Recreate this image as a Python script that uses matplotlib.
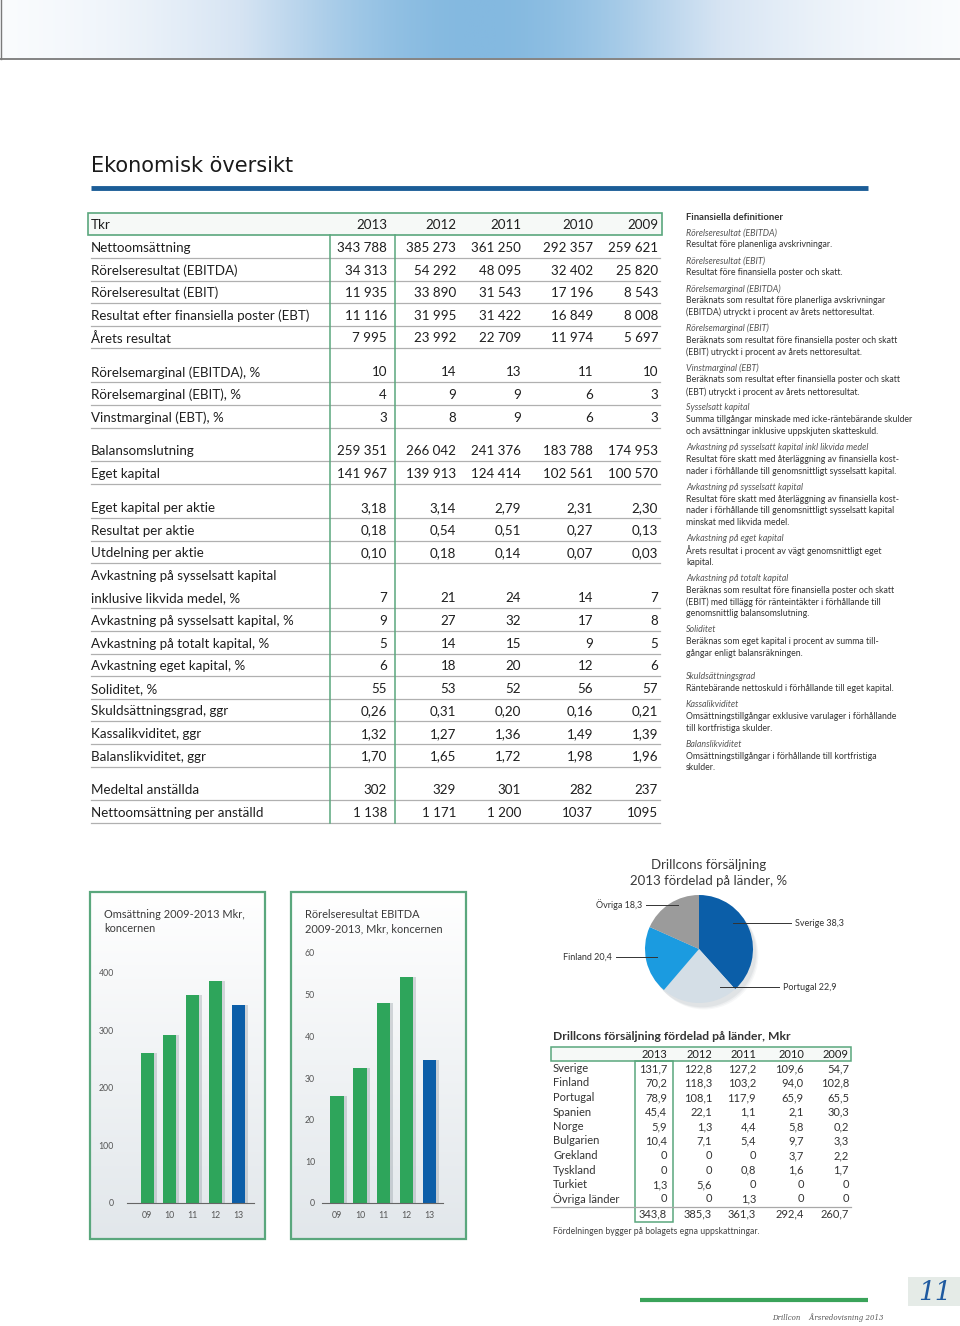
import numpy as np
import matplotlib.pyplot as plt
from matplotlib.colors import LinearSegmentedColormap
from matplotlib.patches import Rectangle, Circle

plt.rcParams['font.family'] = ['Lato', 'DejaVu Sans']

# ---- data -------------------------------------------------------------
years = ['2013', '2012', '2011', '2010', '2009']

# main key-figure table, grouped (blank gap between groups)
table_groups = [
    [("Nettoomsättning", ["343 788", "385 273", "361 250", "292 357", "259 621"]),
     ("Rörelseresultat (EBITDA)", ["34 313", "54 292", "48 095", "32 402", "25 820"]),
     ("Rörelseresultat (EBIT)", ["11 935", "33 890", "31 543", "17 196", "8 543"]),
     ("Resultat efter finansiella poster (EBT)", ["11 116", "31 995", "31 422", "16 849", "8 008"]),
     ("Årets resultat", ["7 995", "23 992", "22 709", "11 974", "5 697"])],
    [("Rörelsemarginal (EBITDA), %", ["10", "14", "13", "11", "10"]),
     ("Rörelsemarginal (EBIT), %", ["4", "9", "9", "6", "3"]),
     ("Vinstmarginal (EBT), %", ["3", "8", "9", "6", "3"])],
    [("Balansomslutning", ["259 351", "266 042", "241 376", "183 788", "174 953"]),
     ("Eget kapital", ["141 967", "139 913", "124 414", "102 561", "100 570"])],
    [("Eget kapital per aktie", ["3,18", "3,14", "2,79", "2,31", "2,30"]),
     ("Resultat per aktie", ["0,18", "0,54", "0,51", "0,27", "0,13"]),
     ("Utdelning per aktie", ["0,10", "0,18", "0,14", "0,07", "0,03"]),
     ("Avkastning på sysselsatt kapital\ninklusive likvida medel, %", ["7", "21", "24", "14", "7"]),
     ("Avkastning på sysselsatt kapital, %", ["9", "27", "32", "17", "8"]),
     ("Avkastning på totalt kapital, %", ["5", "14", "15", "9", "5"]),
     ("Avkastning eget kapital, %", ["6", "18", "20", "12", "6"]),
     ("Soliditet, %", ["55", "53", "52", "56", "57"]),
     ("Skuldsättningsgrad, ggr", ["0,26", "0,31", "0,20", "0,16", "0,21"]),
     ("Kassalikviditet, ggr", ["1,32", "1,27", "1,36", "1,49", "1,39"]),
     ("Balanslikviditet, ggr", ["1,70", "1,65", "1,72", "1,98", "1,96"])],
    [("Medeltal anställda", ["302", "329", "301", "282", "237"]),
     ("Nettoomsättning per anställd", ["1 138", "1 171", "1 200", "1037", "1095"])],
]

definitions = [
    ("Rörelseresultat (EBITDA)", "Resultat före planenliga avskrivningar."),
    ("Rörelseresultat (EBIT)", "Resultat före finansiella poster och skatt."),
    ("Rörelsemarginal (EBITDA)", "Beräknats som resultat före planerliga avskrivningar\n(EBITDA) utryckt i procent av årets nettoresultat."),
    ("Rörelsemarginal (EBIT)", "Beräknats som resultat före finansiella poster och skatt\n(EBIT) utryckt i procent av årets nettoresultat."),
    ("Vinstmarginal (EBT)", "Beräknats som resultat efter finansiella poster och skatt\n(EBT) utryckt i procent av årets nettoresultat."),
    ("Sysselsatt kapital", "Summa tillgångar minskade med icke-räntebärande skulder\noch avsättningar inklusive uppskjuten skatteskuld."),
    ("Avkastning på sysselsatt kapital inkl likvida medel", "Resultat före skatt med återläggning av finansiella kost-\nnader i förhållande till genomsnittligt sysselsatt kapital."),
    ("Avkastning på sysselsatt kapital", "Resultat före skatt med återläggning av finansiella kost-\nnader i förhållande till genomsnittligt sysselsatt kapital\nminskat med likvida medel."),
    ("Avkastning på eget kapital", "Årets resultat i procent av vägt genomsnittligt eget\nkapital."),
    ("Avkastning på totalt kapital", "Beräknas som resultat före finansiella poster och skatt\n(EBIT) med tillägg för ränteintäkter i förhållande till\ngenomsnittlig balansomslutning."),
    ("Soliditet", "Beräknas som eget kapital i procent av summa till-\ngångar enligt balansräkningen."),
    ("Skuldsättningsgrad", "Räntebärande nettoskuld i förhållande till eget kapital."),
    ("Kassalikviditet", "Omsättningstillgångar exklusive varulager i förhållande\ntill kortfristiga skulder."),
    ("Balanslikviditet", "Omsättningstillgångar i förhållande till kortfristiga\nskulder."),
]

bar_years = ['09', '10', '11', '12', '13']
omsattning = [259.6, 292.4, 361.3, 385.3, 343.8]
ebitda = [25.8, 32.4, 48.1, 54.3, 34.3]

pie_labels = ['Sverige', 'Portugal', 'Finland', 'Övriga']
pie_values = [38.3, 22.9, 20.4, 18.3]

countries = ['Sverige', 'Finland', 'Portugal', 'Spanien', 'Norge', 'Bulgarien',
             'Grekland', 'Tyskland', 'Turkiet', 'Övriga länder']
sales_2013 = [131.7, 70.2, 78.9, 45.4, 5.9, 10.4, 0, 0, 1.3, 0]
sales_2012 = [122.8, 118.3, 108.1, 22.1, 1.3, 7.1, 0, 0, 5.6, 0]
sales_2011 = [127.2, 103.2, 117.9, 1.1, 4.4, 5.4, 0, 0.8, 0, 1.3]
sales_2010 = [109.6, 94.0, 65.9, 2.1, 5.8, 9.7, 3.7, 1.6, 0, 0]
sales_2009 = [54.7, 102.8, 65.5, 30.3, 0.2, 3.3, 2.2, 1.7, 0, 0]
sales_total = [343.8, 385.3, 361.3, 292.4, 260.7]

# ---- page -------------------------------------------------------------
W, H = 960, 1326
fig = plt.figure(figsize=(W / 100, H / 100), dpi=100)
fig.patch.set_facecolor('white')
bg = fig.add_axes([0, 0, 1, 1])
bg.axis('off')


def T(x, y, s, **kw):
    kw.setdefault('va', 'center')
    kw.setdefault('color', '#1e1e1e')
    return bg.text(x, y, s, **kw)


# top gradient band
g = np.linspace(-1, 1, 500)
band = np.exp(-(g / 0.6) ** 2)
band_cmap = LinearSegmentedColormap.from_list('band', ['#ffffff', '#d6e4f3', '#84b9e0'])
bg.imshow(band[None, :], extent=(0, W, 58, 0), cmap=band_cmap, aspect='auto', vmin=0, vmax=1)
bg.plot([0, W], [59, 59], color='#7a7a7a', lw=1.3)
bg.plot([0.5, 0.5], [0, 59], color='#7a7a7a', lw=1)

# title
T(91, 166, 'Ekonomisk översikt', family='DejaVu Sans', fontsize=15, color='#1a1a1a')
bg.plot([91, 868], [188, 188], color='#1c5d97', lw=3.5, solid_capstyle='butt')

# ---- main table -------------------------------------------------------
green = '#5aa77d'
fs = 9.6
col_right = [387, 456, 521, 593, 658]
bg.add_patch(Rectangle((88, 213), 574, 22, fc='#f6f9f7', ec=green, lw=1.2))
T(91, 225, 'Tkr', fontsize=fs)
for x, yr in zip(col_right, years):
    T(x, 225, yr, fontsize=fs, ha='right')

step, gap = 22.6, 11.3
y = 248
for group in table_groups:
    for label, vals in group:
        parts = label.split('\n')
        if len(parts) == 2:
            T(91, y, parts[0], fontsize=fs)
            y += step
        T(91, y, parts[-1], fontsize=fs)
        for x, v in zip(col_right, vals):
            T(x, y, v, fontsize=fs, ha='right')
        bg.plot([91, 660], [y + 10, y + 10], color='#b0b0b0', lw=0.9)
        y += step
    y += gap
for x in (330, 395):
    bg.plot([x, x], [235, 823], color=green, lw=1.1)

# ---- definitions ------------------------------------------------------
T(686, 218, 'Finansiella definitioner', fontsize=6.8, weight='bold', color='#333333')
y = 233
for title, body in definitions:
    if title == 'Skuldsättningsgrad':
        y += 7
    T(686, y, title, fontsize=6.4, style='italic', color='#555555')
    lines = body.split('\n')
    for i, ln in enumerate(lines):
        T(686, y + 11.8 * (i + 1), ln, fontsize=6.35, color='#333333')
    y += 11.8 * (len(lines) + 1) + 4.3

# ---- bar charts -------------------------------------------------------
grad = np.linspace(0, 1, 200)[:, None]
panel_cmap = LinearSegmentedColormap.from_list('panel', ['#ffffff', '#e2e7eb'])
for (px0, px1) in ((90, 265), (291, 466)):
    bg.imshow(grad, extent=(px0, px1, 1239, 892), cmap=panel_cmap, aspect='auto')
    bg.add_patch(Rectangle((px0, 892), px1 - px0, 347, fc='none', ec=green, lw=1.6))

T(104, 915, 'Omsättning 2009-2013 Mkr,', fontsize=7.9, color='#3a3a3a')
T(104, 929, 'koncernen', fontsize=7.9, color='#3a3a3a')
T(305, 915, 'Rörelseresultat EBITDA', fontsize=7.9, color='#3a3a3a')
T(305, 929, '2009-2013, Mkr, koncernen', fontsize=7.9, color='#3a3a3a')


def bar_axes(px_l, px_r, px_t, px_b, xlim, ylim, ticks, values, ypad):
    ax = fig.add_axes([px_l / W, 1 - px_b / H, (px_r - px_l) / W, (px_b - px_t) / H])
    ax.patch.set_alpha(0)
    x = np.arange(len(values))
    colors = ['#2ea55b'] * (len(values) - 1) + ['#0c5ea8']
    ax.bar(x + 0.14, values, 0.57, color='#8d969e', alpha=0.35, zorder=1)
    ax.bar(x, values, 0.57, color=colors, zorder=2)
    ax.set_xlim(*xlim)
    ax.set_ylim(*ylim)
    ax.set_xticks(x, bar_years)
    ax.set_yticks(ticks)
    for s in ('left', 'top', 'right'):
        ax.spines[s].set_visible(False)
    ax.spines['bottom'].set_color('#666666')
    ax.tick_params(axis='both', length=0, labelsize=6.3, labelcolor='#555555')
    ax.tick_params(axis='y', pad=ypad)
    ax.tick_params(axis='x', pad=5.5)
    return ax


bar_axes(127, 254, 961, 1203, (-0.88, 4.7), (0, 420), [0, 100, 200, 300, 400], omsattning, 9.4)
bar_axes(322, 443, 953, 1203, (-0.65, 4.6), (0, 60), [0, 10, 20, 30, 40, 50, 60], ebitda, 5)

# ---- pie --------------------------------------------------------------
T(709, 865, 'Drillcons försäljning', fontsize=9.5, ha='center', color='#3a3a3a')
T(709, 881, '2013 fördelad på länder, %', fontsize=9.5, ha='center', color='#3a3a3a')

cx, cy, rad, half = 699, 949, 54, 110
pax = fig.add_axes([(cx - half) / W, 1 - (cy + half) / H, 2 * half / W, 2 * half / H])
pax.axis('off')
for k, a in enumerate((0.10, 0.08, 0.06)):
    pax.add_patch(Circle((0.06 + 0.02 * k, -0.08 - 0.02 * k), 1.0, color='#7d8790', alpha=a, lw=0, zorder=0))
wedges, _ = pax.pie(pie_values, colors=['#0b5ea8', '#d4dee6', '#1b9be0', '#9b9b9b'],
                    startangle=90, counterclock=False, radius=1,
                    wedgeprops=dict(linewidth=0, zorder=2))
pax.set_xlim(-half / rad, half / rad)
pax.set_ylim(-half / rad, half / rad)

label_pos = [(795, 923, 'left'), (783, 987, 'left'), (612, 957, 'right'), (642, 905, 'right')]
inner_r = [0.8, 0.8, 0.8, 0.9]
for w, name, val, (tx, ty, ha), r in zip(wedges, pie_labels, pie_values, label_pos, inner_r):
    mid = np.deg2rad((w.theta1 + w.theta2) / 2)
    yd = (cy - ty) / rad
    xd = np.sign(np.cos(mid)) * np.sqrt(max(r ** 2 - yd ** 2, 0))
    xe = (tx - 4 - cx) / rad if ha == 'left' else (tx + 4 - cx) / rad
    pax.plot([xd, xe], [yd, yd], color='#333333', lw=0.7, zorder=3, clip_on=False)
    T(tx, ty, f"{name} {val:.1f}".replace('.', ','), fontsize=6.5, ha=ha, color='#333333')

# ---- country table ----------------------------------------------------
T(553, 1037, 'Drillcons försäljning fördelad på länder, Mkr', fontsize=8.7, weight='bold', color='#333333')
bg.add_patch(Rectangle((551, 1047), 300, 14, fc='#f6f9f7', ec=green, lw=1.1))
st_right = [667, 712, 756, 804, 849]
for x, yr in zip(st_right, years):
    T(x, 1054, yr, fontsize=8, ha='right')


def fmt(v):
    return '0' if v == 0 else f"{v:.1f}".replace('.', ',')


yy = 1068.5
row_step = 14.5
for i, c in enumerate(countries):
    ry = yy + i * row_step
    T(553, ry, c, fontsize=8, color='#333333')
    for x, col in zip(st_right, (sales_2013, sales_2012, sales_2011, sales_2010, sales_2009)):
        T(x, ry, fmt(col[i]), fontsize=8, ha='right', color='#333333')
ty_tot = yy + len(countries) * row_step
bg.plot([551, 851], [ty_tot - 7, ty_tot - 7], color='#a8a8a8', lw=0.9)
for x, v in zip(st_right, sales_total):
    T(x, ty_tot, fmt(v), fontsize=8, ha='right', color='#333333')
bg.add_patch(Rectangle((635, 1061), 38, 161, fc='none', ec=green, lw=1.1))
T(553, 1231, 'Fördelningen bygger på bolagets egna uppskattningar.', fontsize=6.2, color='#444444')

# ---- footer -----------------------------------------------------------
bg.plot([640, 868], [1300, 1300], color='#3aa35a', lw=3, solid_capstyle='butt')
bg.add_patch(Rectangle((908, 1277), 52, 29, fc='#e5ebe7', ec='none'))
T(935, 1292, '11', family='DejaVu Serif', style='italic', fontsize=19, ha='center', color='#1f5aa0')
T(772, 1318, 'Drillcon    Årsredovisning 2013', family='DejaVu Serif', style='italic', fontsize=5, color='#555555')

bg.set_xlim(0, W)
bg.set_ylim(H, 0)
fig.savefig('out.png', dpi=100)
